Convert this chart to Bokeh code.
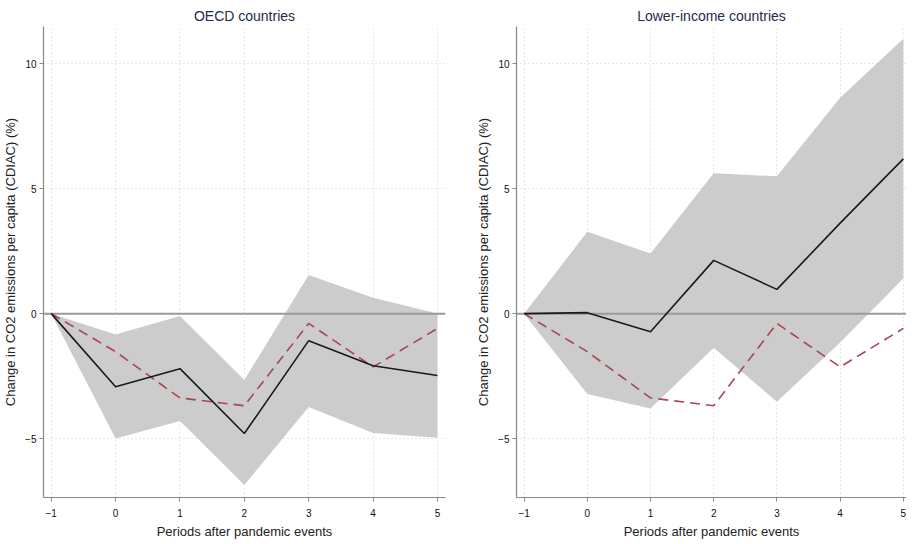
from bokeh.plotting import figure
from bokeh.layouts import row
from bokeh.models import Range1d, FixedTicker
from bokeh.embed import file_html
from bokeh.resources import INLINE

periods = [-1, 0, 1, 2, 3, 4, 5]
x_ticks = [-1, 0, 1, 2, 3, 4, 5]
y_ticks = [-5, 0, 5, 10]

oecd_est = [0, -2.92, -2.20, -4.79, -1.08, -2.08, -2.47]
oecd_upper = [0, -0.83, -0.09, -2.65, 1.55, 0.64, 0.01]
oecd_lower = [0, -4.99, -4.29, -6.85, -3.73, -4.77, -4.96]

low_est = [0, 0.04, -0.72, 2.13, 0.97, 3.62, 6.19]
low_upper = [0, 3.27, 2.40, 5.61, 5.49, 8.63, 10.99]
low_lower = [0, -3.21, -3.79, -1.36, -3.52, -1.15, 1.41]

reference = [0, -1.52, -3.37, -3.68, -0.39, -2.13, -0.59]

titles = ["OECD countries", "Lower-income countries"]
x_title = "Periods after pandemic events"
y_title = "Change in CO2 emissions per capita (CDIAC) (%)"

FONT = "Liberation Sans Narrow, Liberation Sans, Arial, sans-serif"


def panel(title, est, upper, lower, frame_w, border_left, border_right, x_end):
    p = figure(frame_width=frame_w, frame_height=471, output_backend="svg", toolbar_location=None,
               x_range=Range1d(-1.12, x_end), y_range=Range1d(-7.35, 11.48),
               min_border_left=border_left, min_border_right=border_right,
               min_border_top=26, min_border_bottom=38)
    p.title.text = title
    p.title.align = "center"
    p.title.text_font = FONT
    p.title.text_font_size = "14px"
    p.title.text_font_style = "normal"
    p.title.text_color = "#1e2b4d"
    p.title.offset = 0
    p.title.standoff = 6
    p.outline_line_color = None
    p.background_fill_color = "white"

    p.varea(x=periods, y1=lower, y2=upper, fill_color="#cccccc")
    p.line(x=[-1.12, x_end], y=[0, 0], line_color="#9a9a9a", line_width=2)
    p.line(x=periods, y=reference, line_color="#a8474f", line_width=1.6, line_dash="10 6")
    p.line(x=periods, y=est, line_color="#1a1a1a", line_width=1.6)

    for ax, ticks in ((p.xaxis[0], x_ticks), (p.yaxis[0], y_ticks)):
        ax.ticker = FixedTicker(ticks=ticks)
        ax.minor_tick_line_color = None
        ax.major_tick_in = 0
        ax.major_tick_out = 4
        ax.major_tick_line_color = "#888888"
        ax.axis_line_color = "#888888"
        ax.axis_line_width = 1.2
        ax.major_label_text_font = FONT
        ax.major_label_text_font_size = "10px"
        ax.major_label_text_color = "#111111"
        ax.axis_label_text_font = FONT
        ax.axis_label_text_font_size = "13px"
        ax.axis_label_text_font_style = "normal"
        ax.axis_label_text_color = "#222222"
        ax.major_label_standoff = 3
        ax.axis_label_standoff = 4
    p.xaxis.major_label_standoff = 7
    p.xaxis.axis_label = x_title
    p.yaxis.axis_label = y_title

    p.xgrid.ticker = FixedTicker(ticks=x_ticks)
    p.ygrid.ticker = FixedTicker(ticks=y_ticks)
    for g in (p.xgrid[0], p.ygrid[0]):
        g.grid_line_color = "#cfcfcf"
        g.grid_line_dash = "1 3"
        g.grid_line_width = 1
    return p


left = panel(titles[0], oecd_est, oecd_upper, oecd_lower, 402, 38, 10, 5.125)
right = panel(titles[1], low_est, low_upper, low_lower, 390, 61, 0, 5.05)

layout = row(left, right, spacing=0)
open("out.html", "w").write(file_html(layout, INLINE))
